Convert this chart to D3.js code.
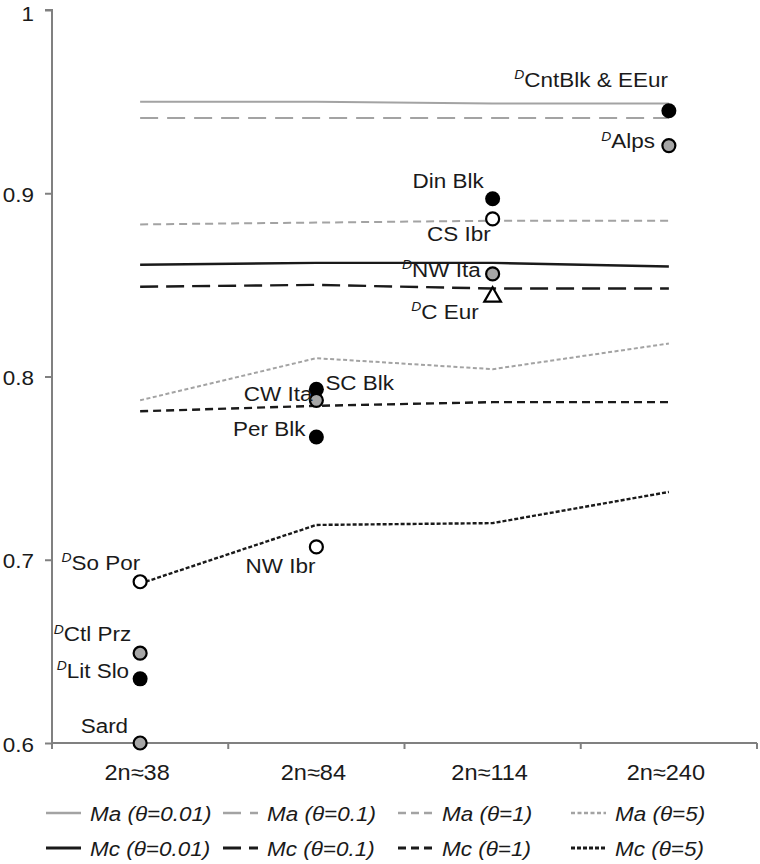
<!DOCTYPE html>
<html>
<head>
<meta charset="utf-8">
<script src="https://cdn.jsdelivr.net/npm/d3@7"></script>
<style>
  html, body { margin: 0; padding: 0; background: #fff; }
  svg { display: block; }
</style>
</head>
<body>
<svg id="chart" width="760" height="864"></svg>
<script>
// ---------------- data ----------------
const categories = ["2n≈38", "2n≈84", "2n≈114", "2n≈240"];
const yTicks = [0.6, 0.7, 0.8, 0.9, 1];

const maTheta001 = [0.950, 0.950, 0.949, 0.949];
const maTheta01  = [0.941, 0.941, 0.941, 0.941];
const maTheta1   = [0.883, 0.884, 0.885, 0.885];
const maTheta5   = [0.787, 0.810, 0.804, 0.818];
const mcTheta001 = [0.861, 0.862, 0.862, 0.860];
const mcTheta01  = [0.849, 0.850, 0.848, 0.848];
const mcTheta1   = [0.781, 0.784, 0.786, 0.786];
const mcTheta5   = [0.687, 0.719, 0.720, 0.737];

const seriesNames = ["Ma (θ=0.01)", "Ma (θ=0.1)", "Ma (θ=1)", "Ma (θ=5)",
                     "Mc (θ=0.01)", "Mc (θ=0.1)", "Mc (θ=1)", "Mc (θ=5)"];

const popNames   = ["CntBlk & EEur", "Alps", "Din Blk", "CS Ibr", "NW Ita", "C Eur",
                    "SC Blk", "CW Ita", "Per Blk", "NW Ibr",
                    "So Por", "Ctl Prz", "Lit Slo", "Sard"];
const popGroup   = ["2n≈240", "2n≈240", "2n≈114", "2n≈114", "2n≈114", "2n≈114",
                    "2n≈84", "2n≈84", "2n≈84", "2n≈84",
                    "2n≈38", "2n≈38", "2n≈38", "2n≈38"];
const popValues  = [0.945, 0.926, 0.897, 0.886, 0.856, 0.844,
                    0.793, 0.787, 0.767, 0.707,
                    0.688, 0.649, 0.635, 0.600];
const popDerived = [true, true, false, false, true, true,
                    false, false, false, false,
                    true, true, true, false];
const popKind    = ["black", "gray", "black", "white", "gray", "triangle",
                    "black", "gray", "black", "white",
                    "white", "gray", "black", "gray"];

// ---------------- styles / layout ----------------
const seriesValues = [maTheta001, maTheta01, maTheta1, maTheta5,
                      mcTheta001, mcTheta01, mcTheta1, mcTheta5];
const seriesStyle = [
  { color: "#a3a3a3", width: 2,   dash: null },
  { color: "#a3a3a3", width: 2,   dash: "18,9" },
  { color: "#a3a3a3", width: 2,   dash: "8,5" },
  { color: "#a3a3a3", width: 2,   dash: "4,2.5" },
  { color: "#1a1a1a", width: 2.4, dash: null },
  { color: "#1a1a1a", width: 2.4, dash: "18,8" },
  { color: "#1a1a1a", width: 2.4, dash: "8,5" },
  { color: "#1a1a1a", width: 2.4, dash: "4,2" }
];
// label offsets relative to the point: [dx, dy(center), anchor]
const labelLayout = {
  "CntBlk & EEur": [-1, -27, "end"],
  "Alps":          [-14, 0, "end"],
  "Din Blk":       [-9, -18, "end"],
  "CS Ibr":        [-2, 15, "end"],
  "NW Ita":        [-12, 0, "end"],
  "C Eur":         [-14, 20, "end"],
  "SC Blk":        [9, -7, "start"],
  "CW Ita":        [-4, -7, "end"],
  "Per Blk":       [-11, -9, "end"],
  "NW Ibr":        [-1, 19, "end"],
  "So Por":        [0, -15, "end"],
  "Ctl Prz":       [-9, -15, "end"],
  "Lit Slo":       [-11, -4, "end"],
  "Sard":          [-12, -18, "end"]
};
const legendCols = [90, 267, 442, 615];
const legendRows = [813, 848];

const FONT = "'Liberation Sans', Arial, Helvetica, sans-serif";
const FS = 21;
const SX = 1.07;
const TEXT = "#1a1a1a";
const AXIS = "#808080";

// ---------------- chart ----------------
const svg = d3.select("#chart");
const x = d3.scaleBand().domain(categories).range([52, 757]).padding(0);
const y = d3.scaleLinear().domain([0.6, 1]).range([743, 10]);
const cx = c => x(c) + x.bandwidth() / 2;

function label(g, px, py, anchor, parts, fs) {
  const gg = g.append("g").attr("transform", `translate(${px},${py}) scale(${SX},1)`);
  const t = gg.append("text")
    .attr("text-anchor", anchor)
    .attr("dy", "0.36em")
    .attr("font-family", FONT)
    .attr("font-size", fs || FS)
    .attr("fill", TEXT);
  parts(t);
  return t;
}

// Y axis
const yAxis = svg.append("g").attr("transform", "translate(52,0)")
  .call(d3.axisLeft(y).tickValues(yTicks).tickSize(7).tickPadding(0).tickFormat(d => ""));
yAxis.selectAll("path, line").attr("stroke", AXIS).attr("stroke-width", 2);
yAxis.select(".domain").attr("d", `M-7,${y(1)}H0V${y(0.6)}`);
yTicks.forEach(v => {
  label(svg, 34, Math.max(y(v) + 1, 13), "end", t => t.text(d3.format("")(v)));
});

// X axis
const xAxisG = svg.append("g").attr("transform", `translate(0,${y(0.6)})`);
xAxisG.append("line").attr("x1", 52).attr("x2", 757).attr("y1", 0).attr("y2", 0)
  .attr("stroke", AXIS).attr("stroke-width", 2);
const bounds = categories.map(c => x(c)).concat([x.range()[1]]);
xAxisG.selectAll("line.tick").data(bounds).enter().append("line")
  .attr("class", "tick")
  .attr("x1", d => d).attr("x2", d => d).attr("y1", 0).attr("y2", 6)
  .attr("stroke", AXIS).attr("stroke-width", 2);
categories.forEach(c => {
  label(svg, cx(c) - 3, 772, "middle", t => t.text(c), 22);
});

// Lines
const line = d3.line().x((d, i) => cx(categories[i])).y(d => y(d));
seriesValues.forEach((vals, i) => {
  const s = seriesStyle[i];
  svg.append("path")
    .datum(vals)
    .attr("d", line)
    .attr("fill", "none")
    .attr("stroke", s.color)
    .attr("stroke-width", s.width)
    .attr("stroke-dasharray", s.dash);
});

// Points
const fills = { black: "#000", gray: "#a6a6a6", white: "#fff", triangle: "#fff" };
popNames.forEach((name, i) => {
  const px = cx(popGroup[i]);
  const py = y(popValues[i]);
  const kind = popKind[i];
  if (kind === "triangle") {
    svg.append("path")
      .attr("d", d3.symbol().type(d3.symbolTriangle).size(120)())
      .attr("transform", `translate(${px},${py + 1})`)
      .attr("fill", fills[kind]).attr("stroke", "#000").attr("stroke-width", 2.2);
  } else {
    svg.append("circle")
      .attr("cx", px).attr("cy", py)
      .attr("r", kind === "black" ? 7.5 : 6.5)
      .attr("fill", fills[kind])
      .attr("stroke", "#000")
      .attr("stroke-width", kind === "black" ? 0 : 2.2);
  }
  const L = labelLayout[name];
  label(svg, px + L[0], py + L[1], L[2], t => {
    if (popDerived[i]) {
      t.append("tspan").attr("font-size", 13).attr("font-style", "italic").attr("dy", "-0.35em").text("D");
      t.append("tspan").attr("dy", "0.35em").text(name);
    } else {
      t.text(name);
    }
  });
});

// Legend
seriesNames.forEach((name, i) => {
  const col = i % 4, row = Math.floor(i / 4);
  const tx = legendCols[col], ty = legendRows[row];
  const s = seriesStyle[i];
  svg.append("line")
    .attr("x1", tx - 44).attr("x2", tx - 9)
    .attr("y1", ty).attr("y2", ty)
    .attr("stroke", s.color)
    .attr("stroke-width", s.width + 0.5)
    .attr("stroke-dasharray", s.dash);
  label(svg, tx, ty, "start", t => {
    t.attr("font-style", "italic").text(name);
  });
});
</script>
</body>
</html>
